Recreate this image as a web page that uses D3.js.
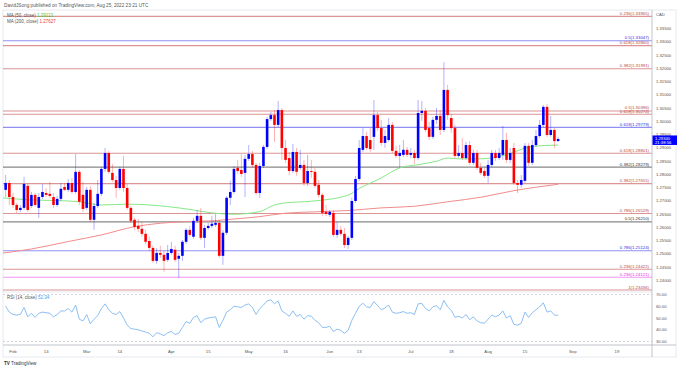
<!DOCTYPE html>
<html>
<head>
<meta charset="utf-8">
<script src="https://cdn.jsdelivr.net/npm/d3@7"></script>
<style>
  html, body { margin: 0; padding: 0; background: #fff; }
  svg { display: block; font-family: "Liberation Sans", Arial, sans-serif; }
</style>
</head>
<body>
<svg id="chart" width="679" height="368"></svg>
<script>
// USD/CAD daily candles, first bar on Jan 28 2022, last (live) bar on Aug 26 2022
var firstBar = "2022-01-28";

var opens = [1.2742,1.2768,1.2715,1.2685,1.2666,1.2674,1.2757,1.2681,1.2723,1.2674,1.2715,1.2730,1.2727,1.2715,1.2685,1.2708,1.2753,1.2742,1.2768,1.2734,
  1.2810,1.2723,1.2674,1.2742,1.2629,1.2681,1.2727,1.2821,1.2881,1.2806,1.2779,1.2749,1.2821,1.2749,1.2674,1.2629,1.2606,1.2595,1.2576,1.2549,
  1.2523,1.2474,1.2504,1.2497,1.2478,1.2504,1.2516,1.2482,1.2493,1.2546,1.2591,1.2565,1.2625,1.2644,1.2561,1.2598,1.2606,1.2610,1.2617,1.2493,
  1.2580,1.2712,1.2734,1.2825,1.2817,1.2806,1.2859,1.2877,1.2836,1.2730,1.2832,1.2904,1.3009,1.3024,1.2987,1.3043,1.2900,1.2862,1.2813,1.2885,
  1.2825,1.2836,1.2768,1.2813,1.2810,1.2761,1.2723,1.2659,1.2648,1.2655,1.2572,1.2591,1.2576,1.2534,1.2561,1.2700,1.2783,1.2893,1.2945,1.2930,
  1.2942,1.3024,1.2975,1.2919,1.2930,1.2987,1.2889,1.2870,1.2874,1.2893,1.2874,1.2881,1.2862,1.3032,1.3040,1.2975,1.2942,1.3006,1.3021,1.2968,
  1.3119,1.3013,1.2975,1.2870,1.2881,1.2862,1.2911,1.2844,1.2881,1.2825,1.2813,1.2795,1.2836,1.2881,1.2862,1.2874,1.2930,1.2855,1.2900,1.2768,
  1.2761,1.2776,1.2908,1.2844,1.2911,1.2945,1.2987,1.3055,1.2949,1.2968,1.2926];
var highs = [1.2798,1.2779,1.2730,1.2693,1.2685,1.2791,1.2764,1.2734,1.2730,1.2730,1.2764,1.2749,1.2772,1.2730,1.2719,1.2768,1.2768,1.2783,1.2787,1.2877,
  1.2817,1.2772,1.2753,1.2757,1.2693,1.2779,1.2828,1.2900,1.2889,1.2840,1.2795,1.2828,1.2870,1.2764,1.2681,1.2636,1.2632,1.2621,1.2591,1.2565,
  1.2531,1.2523,1.2531,1.2512,1.2534,1.2546,1.2531,1.2504,1.2553,1.2598,1.2606,1.2636,1.2666,1.2674,1.2610,1.2617,1.2644,1.2651,1.2629,1.2591,
  1.2719,1.2776,1.2832,1.2855,1.2877,1.2874,1.2911,1.2889,1.2844,1.2844,1.2911,1.3017,1.3036,1.3043,1.3077,1.3051,1.2930,1.2885,1.2915,1.2900,
  1.2893,1.2855,1.2874,1.2855,1.2825,1.2779,1.2730,1.2685,1.2666,1.2666,1.2621,1.2606,1.2598,1.2568,1.2712,1.2795,1.2930,1.2975,1.2960,1.2975,
  1.3081,1.3036,1.3006,1.2968,1.3013,1.2998,1.2908,1.2911,1.2930,1.2904,1.2900,1.2893,1.3081,1.3077,1.3051,1.2998,1.3017,1.3051,1.3043,1.3224,
  1.3138,1.3028,1.2987,1.2911,1.2938,1.2923,1.2926,1.2893,1.2893,1.2844,1.2825,1.2855,1.2893,1.2893,1.2900,1.2983,1.2957,1.2900,1.2919,1.2779,
  1.2798,1.2919,1.2919,1.2930,1.2968,1.3006,1.3062,1.3066,1.3021,1.2975,1.2942];
var lows = [1.2715,1.2685,1.2674,1.2655,1.2659,1.2666,1.2659,1.2674,1.2678,1.2636,1.2708,1.2715,1.2712,1.2674,1.2678,1.2700,1.2738,1.2734,1.2727,1.2727,
  1.2685,1.2659,1.2666,1.2621,1.2591,1.2674,1.2719,1.2810,1.2802,1.2772,1.2712,1.2742,1.2734,1.2666,1.2617,1.2591,1.2583,1.2565,1.2538,1.2512,
  1.2467,1.2463,1.2485,1.2433,1.2470,1.2497,1.2470,1.2410,1.2474,1.2538,1.2565,1.2557,1.2617,1.2553,1.2523,1.2591,1.2598,1.2602,1.2485,1.2459,
  1.2572,1.2685,1.2727,1.2802,1.2791,1.2715,1.2851,1.2825,1.2723,1.2712,1.2825,1.2896,1.3002,1.2923,1.2979,1.2855,1.2844,1.2798,1.2806,1.2795,
  1.2817,1.2757,1.2757,1.2787,1.2749,1.2712,1.2644,1.2644,1.2640,1.2565,1.2561,1.2568,1.2523,1.2519,1.2553,1.2693,1.2776,1.2885,1.2893,1.2885,
  1.2893,1.2964,1.2908,1.2900,1.2923,1.2881,1.2862,1.2825,1.2866,1.2866,1.2862,1.2840,1.2855,1.3002,1.2960,1.2930,1.2934,1.2991,1.2949,1.2960,
  1.3006,1.2957,1.2862,1.2862,1.2855,1.2855,1.2836,1.2836,1.2817,1.2798,1.2787,1.2768,1.2828,1.2851,1.2855,1.2855,1.2844,1.2844,1.2761,1.2730,
  1.2749,1.2768,1.2832,1.2836,1.2904,1.2938,1.2979,1.2942,1.2942,1.2900,1.2923];
var closes = [1.2768,1.2715,1.2685,1.2666,1.2674,1.2764,1.2666,1.2723,1.2685,1.2715,1.2734,1.2723,1.2719,1.2685,1.2708,1.2746,1.2742,1.2768,1.2734,1.2810,
  1.2697,1.2670,1.2742,1.2629,1.2681,1.2727,1.2821,1.2881,1.2810,1.2779,1.2749,1.2821,1.2749,1.2674,1.2625,1.2602,1.2595,1.2576,1.2546,1.2523,
  1.2474,1.2504,1.2497,1.2474,1.2504,1.2519,1.2478,1.2493,1.2546,1.2591,1.2572,1.2625,1.2644,1.2561,1.2598,1.2606,1.2614,1.2617,1.2493,1.2580,
  1.2712,1.2734,1.2821,1.2813,1.2802,1.2859,1.2877,1.2836,1.2730,1.2832,1.2904,1.3009,1.3024,1.2987,1.3043,1.2900,1.2855,1.2813,1.2885,1.2810,
  1.2836,1.2768,1.2813,1.2810,1.2757,1.2723,1.2655,1.2651,1.2659,1.2572,1.2591,1.2576,1.2534,1.2561,1.2700,1.2783,1.2900,1.2945,1.2900,1.2896,
  1.3024,1.2975,1.2919,1.2945,1.2987,1.2889,1.2870,1.2881,1.2893,1.2874,1.2881,1.2862,1.3032,1.3040,1.2968,1.2942,1.3006,1.3021,1.2968,1.3119,
  1.3024,1.2975,1.2870,1.2881,1.2862,1.2911,1.2844,1.2881,1.2825,1.2806,1.2795,1.2836,1.2881,1.2862,1.2881,1.2930,1.2855,1.2881,1.2768,1.2761,
  1.2779,1.2908,1.2844,1.2911,1.2945,1.2987,1.3055,1.2949,1.2968,1.2926,1.2934];

// RSI(14) per bar
var rsi = [60,55,53,52.5,53,59,51,54,50.5,54,55,54.5,54,51,53,56,56,58,55,61,
  49,47.5,53,45,49,52,58,62,57,54,53,55.5,50,44,41,40.5,40,39,38,37,
  34,37.5,36.5,35,37.5,38.5,36,37,42,47,45.5,50.5,52,46,49,50,50.5,51,42,48,
  55,57,60,59.5,59,61,62,59,53,58,61,64.5,65.5,62,64.5,56,54,51.5,56,51.5,
  53,49,52,51.5,48,46,42,42,43,38.5,40.5,39.5,37,39.5,48,54,60,62.5,59.5,59,
  64,60.5,57,58.5,61,55,54,54.5,55.5,54,54.5,53,62,62.5,58,56,59.5,60.5,57,65,
  59.5,56.5,50.5,51.5,50,53,48.5,51,47.5,46,45.5,49,52.5,51,52.5,56,50,52,44.5,44,
  45.5,55,50.5,54.5,57,59.5,63,55,56,52.5,52.3];

// moving averages, [bar number from firstBar, value]
var ma50 = [[-1,1.2712],[7,1.2704],[17,1.2700],[20,1.2697],[26,1.2685],[33,1.2688],[44,1.2679],[51,1.2666],[56,1.2655],
  [62,1.2650],[69,1.2660],[73,1.2685],[76,1.2693],[83,1.2699],[93,1.2722],[96,1.2747],[102,1.2787],[107,1.2825],
  [112,1.2837],[117,1.2850],[120,1.2862],[123,1.2859],[129,1.2859],[136,1.2875],[143,1.2906],[150,1.2911]];
var ma200 = [[-1,1.2503],[7,1.2519],[17,1.2547],[26,1.2572],[35,1.2603],[42,1.2616],[49,1.2622],[56,1.2625],[62,1.2632],
  [69,1.2641],[76,1.2654],[84,1.2659],[93,1.2664],[102,1.2674],[111,1.2680],[120,1.2697],[129,1.2714],[138,1.2739],[150,1.2763]];

// fibonacci levels drawn on the chart
var fibPrices = [1.33965,1.33047,1.32860,1.31991,1.30396,1.30274,1.29779,1.28801,1.28279,1.27655,1.26529,1.26210,1.25124,1.24422,1.24121,1.23436];
var fibRatios = ["0.236","0.5","0.618","0.382","0.5","0.618","0.618","0.618","0.382","0.382","0.786","0.5","0.786","0.236","0.236","1"];
var fibKinds = ["red","blue","red","red","red","red","blue","red","gray","red","red","gray","blue","red","pink","red"];

var tickDates = ["2022-02-01","2022-02-14","2022-03-01","2022-03-14","2022-04-01","2022-04-15","2022-05-02","2022-05-16",
  "2022-06-01","2022-06-13","2022-07-01","2022-07-18","2022-08-01","2022-08-15","2022-09-01","2022-09-19"];
var tickLabels = ["Feb","14","Mar","14","Apr","15","May","16","Jun","13","Jul","18","Aug","15","Sep","19"];

var priceTicks = d3.range(1.24, 1.3351, 0.005);
var rsiTicks = [70, 60, 50, 40, 30];
var lastPrice = 1.29340, countdown = "21:38:56";
var ma50Last = "1.29113", ma200Last = "1.27627", rsiLast = "52.34";

var parse = d3.timeParse("%Y-%m-%d"), key = d3.timeFormat("%Y-%m-%d");
var days = d3.timeDays(parse("2022-01-26"), parse("2022-10-01")).filter(function(d) {
  return d.getDay() !== 0 && d.getDay() !== 6;
});
var dayIndex = {};
days.forEach(function(d, i) { dayIndex[key(d)] = i; });
var b0 = dayIndex[firstBar];

var bars = opens.map(function(o, i) {
  return { t: b0 + i, o: o, h: highs[i], l: lows[i], c: closes[i], r: rsi[i] };
});

var svg = d3.select("#chart");
var padLeft = 3, axisX = 652, padTop = 10, paneSplit = 292, rsiBottom = 345, axisBottom = 357;

var x = d3.scaleLinear().domain([dayIndex["2022-02-01"], dayIndex["2022-09-19"]]).range([13, 617]);
var y = d3.scaleLinear().domain([1.24, 1.335]).range([280.5, 28.7]);
var yr = d3.scaleLinear().domain([30, 70]).range([341.5, 294.5]);

var colors = {
  red: { line: "#d07070", text: "#b84848" },
  blue: { line: "#6b6bf0", text: "#3030e0" },
  gray: { line: "#7a7a7a", text: "#333333" },
  pink: { line: "#f070f0", text: "#e030e0" }
};

// frame
svg.append("rect").attr("x", padLeft).attr("y", padTop).attr("width", 676 - padLeft).attr("height", axisBottom - padTop)
  .attr("fill", "none").attr("stroke", "#e0e3eb").attr("stroke-width", 0.8);

svg.append("defs").append("clipPath").attr("id", "pclip")
  .append("rect").attr("x", padLeft).attr("y", padTop).attr("width", axisX - padLeft).attr("height", paneSplit - padTop);

var pane = svg.append("g").attr("clip-path", "url(#pclip)");

// fib lines
var fibs = fibPrices.map(function(p, i) { return { p: p, r: fibRatios[i], k: fibKinds[i] }; });
fibs.forEach(function(d) { d.y = Math.min(y(d.p), paneSplit - 2); d.ty = d.y - 1.5; });
// keep close labels from sitting on each other
fibs.sort(function(a, b) { return b.ty - a.ty; });
for (var i = 1; i < fibs.length; i++) {
  if (fibs[i - 1].ty - fibs[i].ty < 3.6) fibs[i].ty = fibs[i - 1].ty - 3.6;
}
pane.selectAll("line.fib").data(fibs).join("line")
  .attr("x1", padLeft).attr("x2", axisX)
  .attr("y1", function(d) { return d.y; }).attr("y2", function(d) { return d.y; })
  .attr("stroke", function(d) { return colors[d.k].line; })
  .attr("stroke-opacity", function(d) { return d.k === "gray" ? 0.9 : 0.75; })
  .attr("stroke-width", 1.1);

// moving averages
var line = d3.line().curve(d3.curveMonotoneX)
  .x(function(d) { return x(b0 + d[0]); }).y(function(d) { return y(d[1]); });
pane.append("path").attr("d", line(ma200)).attr("fill", "none").attr("stroke", "#f28c8c").attr("stroke-width", 1);
pane.append("path").attr("d", line(ma50)).attr("fill", "none").attr("stroke", "#86e886").attr("stroke-width", 1);

// candles
function col(d) { return d.c >= d.o ? "#0000ff" : "#ff0000"; }
var bw = 2.6;
pane.selectAll("line.wick").data(bars).join("line")
  .attr("x1", function(d) { return x(d.t); }).attr("x2", function(d) { return x(d.t); })
  .attr("y1", function(d) { return y(d.h); }).attr("y2", function(d) { return y(d.l); })
  .attr("stroke", col).attr("stroke-opacity", 0.3).attr("stroke-width", 1);
pane.selectAll("rect.body").data(bars).join("rect")
  .attr("x", function(d) { return x(d.t) - bw / 2; }).attr("width", bw)
  .attr("y", function(d) { return y(Math.max(d.o, d.c)); })
  .attr("height", function(d) { return Math.max(0.9, Math.abs(y(d.o) - y(d.c))); })
  .attr("fill", col);

// fib labels
pane.selectAll("text.fib").data(fibs).join("text")
  .attr("x", axisX - 3).attr("y", function(d) { return d.ty; })
  .attr("text-anchor", "end").attr("font-size", 4.3)
  .attr("fill", function(d) { return colors[d.k].text; })
  .text(function(d) { return d.r + "(" + d.p.toFixed(5) + ")"; });

// pane separator and rsi pane
svg.append("line").attr("x1", padLeft).attr("x2", axisX).attr("y1", paneSplit).attr("y2", paneSplit)
  .attr("stroke", "#e0e3eb").attr("stroke-width", 0.8);
[70, 30].forEach(function(v) {
  svg.append("line").attr("x1", padLeft).attr("x2", axisX).attr("y1", yr(v)).attr("y2", yr(v))
    .attr("stroke", "#b6b9c2").attr("stroke-width", 0.6).attr("stroke-dasharray", "2,2");
});
var rline = d3.line().x(function(d) { return x(d.t); }).y(function(d) { return yr(d.r); });
svg.append("path").attr("d", rline(bars)).attr("fill", "none").attr("stroke", "#7fb8f2").attr("stroke-width", 0.9);

// legends
svg.append("text").attr("x", 4).attr("y", 7.3).attr("font-size", 4.7).attr("fill", "#555")
  .text("DavidJSong published on TradingView.com, Aug 25, 2022 23:21 UTC");
var lg = [["MA (50, close)", ma50Last, "#3cc83c", 16.8], ["MA (200, close)", ma200Last, "#f03c3c", 23.4]];
lg.forEach(function(d) {
  var t = svg.append("text").attr("x", 7).attr("y", d[3]).attr("font-size", 4.5).attr("fill", "#555");
  t.append("tspan").text(d[0] + "  ");
  t.append("tspan").attr("fill", d[2]).text(d[1]);
});
var rt = svg.append("text").attr("x", 7).attr("y", 298.8).attr("font-size", 4.5).attr("fill", "#555");
rt.append("tspan").text("RSI (14, close)  ");
rt.append("tspan").attr("fill", "#3d9df2").text(rsiLast);

// price axis
svg.append("line").attr("x1", axisX).attr("x2", axisX).attr("y1", padTop).attr("y2", axisBottom)
  .attr("stroke", "#b2b5be").attr("stroke-width", 0.8);
svg.append("text").attr("x", 656).attr("y", 15.5).attr("font-size", 4.2).attr("fill", "#555").text("CAD");
svg.selectAll("text.pt").data(priceTicks).join("text")
  .attr("x", 656).attr("y", function(d) { return y(d) + 1.5; })
  .attr("font-size", 4.2).attr("fill", "#555").text(d3.format(".5f"));
svg.selectAll("text.rt").data(rsiTicks).join("text")
  .attr("x", 656).attr("y", function(d) { return yr(d) + 1.5; })
  .attr("font-size", 4.2).attr("fill", "#555").text(d3.format(".2f"));

// last price marker
var ly = y(lastPrice);
svg.append("rect").attr("x", axisX + 0.5).attr("y", ly - 3.5).attr("width", 24.5).attr("height", 9.5).attr("fill", "#0000ff");
svg.append("text").attr("x", 655).attr("y", ly + 1.5).attr("font-size", 4.2).attr("fill", "#fff").text(lastPrice.toFixed(5));
svg.append("text").attr("x", 655).attr("y", ly + 5.3).attr("font-size", 4.2).attr("fill", "#fff").text(countdown);

// time axis
svg.append("line").attr("x1", padLeft).attr("x2", 676).attr("y1", rsiBottom).attr("y2", rsiBottom)
  .attr("stroke", "#b2b5be").attr("stroke-width", 0.8);
svg.selectAll("text.tt").data(tickDates).join("text")
  .attr("x", function(d) { return x(dayIndex[d]); }).attr("y", 353.3)
  .attr("text-anchor", "middle").attr("font-size", 4.3).attr("fill", "#555")
  .text(function(d, i) { return tickLabels[i]; });

// logo
var lt = svg.append("text").attr("x", 4).attr("y", 364.5).attr("font-size", 4.6).attr("fill", "#333");
lt.append("tspan").attr("font-weight", "bold").text("TV");
lt.append("tspan").text(" TradingView");
</script>
</body>
</html>
